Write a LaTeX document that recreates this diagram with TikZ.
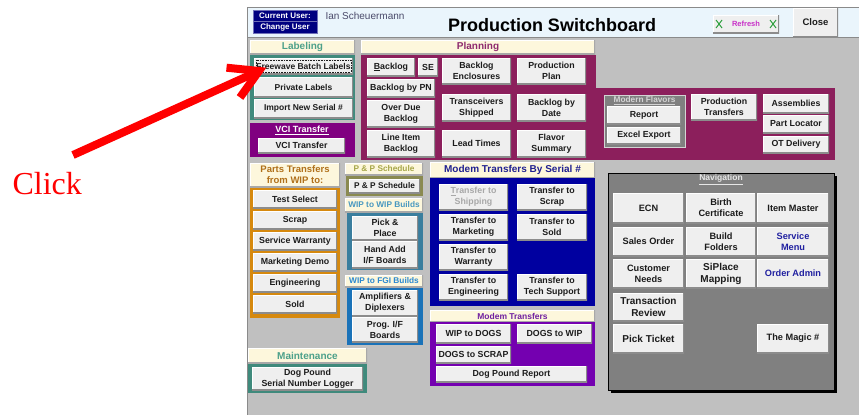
\documentclass[tikz,border=0pt]{standalone}
\usepackage{fontspec}
\setmainfont{Liberation Sans}
\newfontfamily\clickfont{Liberation Serif}
\usetikzlibrary{calc}

\definecolor{winGrey}{HTML}{C0C0C0}
\definecolor{winEdge}{HTML}{8A8A8A}
\definecolor{hdrBlue}{HTML}{EAF5FC}
\definecolor{userNavy}{HTML}{000080}
\definecolor{userEdge}{HTML}{7070B8}
\definecolor{userInk}{HTML}{4A4A6A}
\definecolor{btnFace}{HTML}{EFEFEF}
\definecolor{btnShade}{HTML}{8C8C8C}
\definecolor{btnInk}{HTML}{1C1C1C}
\definecolor{hdrCream}{HTML}{FDF7DC}
\definecolor{hdrShade}{HTML}{A8A8A8}
\definecolor{tealFrame}{HTML}{3F8A7C}
\definecolor{tealInk}{HTML}{4CA08A}
\definecolor{vciPurple}{HTML}{800080}
\definecolor{planMag}{HTML}{8C1F5C}
\definecolor{planInk}{HTML}{8E2A6E}
\definecolor{partsOrange}{HTML}{D6890E}
\definecolor{partsInk}{HTML}{B0701A}
\definecolor{oliveFrame}{HTML}{8A8A50}
\definecolor{oliveInk}{HTML}{A6A648}
\definecolor{wipFrame}{HTML}{3A7E9E}
\definecolor{wipInk}{HTML}{4898C0}
\definecolor{fgiFrame}{HTML}{1A72B8}
\definecolor{fgiInk}{HTML}{2A88D0}
\definecolor{serialNavy}{HTML}{0000A0}
\definecolor{serialInk}{HTML}{202090}
\definecolor{dogPurple}{HTML}{7400B0}
\definecolor{dogInk}{HTML}{7020A0}
\definecolor{navGrey}{HTML}{808080}
\definecolor{navTitle}{HTML}{E6E6E6}
\definecolor{flavGrey}{HTML}{808080}
\definecolor{flavEdge}{HTML}{D4D4D4}
\definecolor{linkNavy}{HTML}{2020A0}
\definecolor{disabledInk}{HTML}{A8A8A8}
\definecolor{refreshInk}{HTML}{C830C8}
\definecolor{iconGreen}{HTML}{30A040}
\definecolor{clickRed}{HTML}{FF0000}

\newcommand\fsz[2]{\fontsize{#1}{#2}\selectfont}
% rectangle node given by its corners: [style]{name}{x1}{y1}{x2}{y2}{text}
\newcommand\sbNode[7][]{\node[#1, minimum width={#5-#3}, minimum height={#6-#4}] (#2) at ({(#3+#5)/2},{(#4+#6)/2}) {#7};}

\begin{document}
\begin{tikzpicture}[x=1pt,y=-1pt,
  btn/.style={rectangle, fill=btnFace, inner sep=0pt, outer sep=0pt, align=center,
    text=btnInk, font=\fsz{8.8}{10.8}\bfseries,
    path picture={
      \draw[white, line width=2pt] (path picture bounding box.south west) |- (path picture bounding box.north east);
      \draw[btnShade, line width=2pt] (path picture bounding box.south west) -| (path picture bounding box.north east);
    }},
  navbtn/.style={btn, font=\fsz{9.2}{11}\bfseries},
  hdr/.style={rectangle, fill=hdrCream, inner sep=0pt, outer sep=0pt, align=center,
    font=\fsz{10}{11}\bfseries,
    path picture={
      \draw[white, line width=1.6pt] (path picture bounding box.south west) |- (path picture bounding box.north east);
      \draw[hdrShade, line width=1.6pt] (path picture bounding box.south west) -| (path picture bounding box.north east);
    }},
  smallhdr/.style={hdr, font=\fsz{8.3}{9}\bfseries},
  panel/.style={rectangle, inner sep=0pt, outer sep=0pt},
  userTag/.style={rectangle, fill=userNavy, draw=userEdge, line width=0.8pt, inner sep=0pt,
    text=white, font=\fsz{8}{9}\bfseries},
  clickArrow/.style={draw=clickRed, line width=8pt}
]
\useasboundingbox (0,0) rectangle (859,415);
\fill[white] (0,0) rectangle (859,415);

% ---- window body and title bar
\fill[winGrey] (247,7) rectangle (859,415);
\fill[hdrBlue] (248,8) rectangle (859,37);
\draw[winEdge] (247.5,7) -- (247.5,415);
\draw[winEdge] (247,7.5) -- (859,7.5);
\draw[winEdge] (248,37.5) -- (859,37.5);

\sbNode[userTag]{curUser}{253}{10}{317}{21}{Current User:}
\sbNode[userTag]{chgUser}{253}{21.5}{317}{33}{Change User}
\node[anchor=west, font=\fsz{10}{11}, text=userInk] (userName) at (322,16) {Ian Scheuermann};
\node[font=\fsz{18}{20}\bfseries] (title) at (552,25) {Production Switchboard};

\sbNode[btn, font=\fsz{7.5}{8}\bfseries, text=refreshInk]{refresh}{713}{15}{779}{33}{Refresh}
\foreach \ix in {719,773} {
  \draw[iconGreen, line width=1pt] (\ix-3,20) -- (\ix+3,28) (\ix+3,20) -- (\ix-3,28);
}
\sbNode[btn, font=\fsz{9.5}{11}\bfseries]{closeBtn}{793}{8}{838}{37}{Close}

% ---- Labeling
\sbNode[hdr, text=tealInk]{labHdr}{250}{40}{355}{54}{Labeling}
\sbNode[panel, fill=tealFrame]{labPanel}{250}{55}{355}{120}{}
\sbNode[btn, font=\fsz{8.5}{10}\bfseries]{fwb}{254}{58}{353}{74}{Freewave Batch Labels}
\draw[btnInk, densely dotted, line width=0.6pt]
  ([shift={(2,-2)}]fwb.south west) rectangle ([shift={(-2,2)}]fwb.north east);
\sbNode[btn, font=\fsz{8.5}{10}\bfseries]{privLab}{254}{77}{353}{97}{Private Labels}
\sbNode[btn, font=\fsz{8.5}{10}\bfseries]{impSer}{254}{99}{353}{118}{Import New Serial \#}

% ---- VCI Transfer
\sbNode[panel, fill=vciPurple]{vciPanel}{250}{123}{355}{157}{}
\node[text=white, font=\fsz{9}{10}\bfseries] (vciHdr) at (302,130) {\underline{VCI Transfer}};
\sbNode[btn]{vciBtn}{258}{138}{345}{153}{VCI Transfer}

% ---- Planning
\sbNode[hdr, text=planInk]{planHdr}{361}{40}{595}{54}{Planning}
\sbNode[panel, fill=planMag]{planL}{361}{55}{596}{159.5}{}
\sbNode[panel, fill=planMag]{planR}{595}{88}{835}{159.5}{}
\sbNode[btn]{backlog}{367}{58}{415}{76}{\underline{B}acklog}
\sbNode[btn]{seBtn}{418}{58}{438}{76}{SE}
\sbNode[btn]{blEncl}{442}{58}{511}{84}{Backlog\\Enclosures}
\sbNode[btn]{prodPlan}{517}{58}{586}{84}{Production\\Plan}
\sbNode[btn]{blPN}{367}{79}{435}{97}{Backlog by PN}
\sbNode[btn]{overDue}{367}{100}{435}{127}{Over Due\\Backlog}
\sbNode[btn]{trShip}{442}{94}{511}{121}{Transceivers\\Shipped}
\sbNode[btn]{blDate}{517}{94}{586}{121}{Backlog by\\Date}
\sbNode[btn]{lineItem}{367}{130}{435}{157}{Line Item\\Backlog}
\sbNode[btn]{leadTimes}{442}{130}{511}{157}{Lead Times}
\sbNode[btn]{flavSum}{517}{130}{586}{157}{Flavor\\Summary}

\sbNode[panel, fill=flavGrey, draw=flavEdge, line width=1pt]{flavFrame}{604}{95}{685}{147}{}
\node[text=flavEdge, font=\fsz{8.3}{9}\bfseries] (flavHdr) at (644.5,100.5) {\underline{Modern Flavors}};
\sbNode[btn]{flavRep}{607}{106}{681}{124}{Report}
\sbNode[btn]{flavXls}{607}{127}{681}{144}{Excel Export}
\sbNode[btn]{prodTr}{691}{94}{757}{120}{Production\\Transfers}
\sbNode[btn]{assy}{763}{94}{829}{113}{Assemblies}
\sbNode[btn]{partLoc}{763}{115}{829}{133}{Part Locator}
\sbNode[btn]{otDel}{763}{136}{829}{153}{OT Delivery}

% ---- Parts transfers from WIP
\sbNode[hdr, text=partsInk, font=\fsz{9.5}{11}\bfseries]{partsHdr}{250}{163}{340}{187}{Parts Transfers\\from WIP to:}
\sbNode[panel, fill=partsOrange]{partsPanel}{250}{188}{340}{318}{}
\sbNode[btn]{ptTest}{253}{190}{337}{208}{Test Select}
\sbNode[btn]{ptScrap}{253}{211}{337}{229}{Scrap}
\sbNode[btn]{ptWarr}{253}{232}{337}{250}{Service Warranty}
\sbNode[btn]{ptMkt}{253}{253}{337}{271}{Marketing Demo}
\sbNode[btn]{ptEng}{253}{274}{337}{292}{Engineering}
\sbNode[btn]{ptSold}{253}{295}{337}{313}{Sold}

% ---- P & P schedule, WIP builds
\sbNode[smallhdr, text=oliveInk]{ppHdr}{345}{163}{423}{175}{P \& P Schedule}
\sbNode[panel, fill=oliveFrame]{ppPanel}{346}{176}{423}{196}{}
\sbNode[btn, font=\fsz{8.3}{10}\bfseries]{ppBtn}{349}{179}{420}{193}{P \& P Schedule}

\sbNode[smallhdr, text=wipInk]{wipHdr}{345}{198}{423}{212}{WIP to WIP Builds}
\sbNode[panel, fill=wipFrame]{wipPanel}{347}{213}{423}{270}{}
\sbNode[btn]{pickPlace}{352}{216}{418}{240}{Pick \&\\Place}
\sbNode[btn]{handAdd}{352}{241}{418}{268}{Hand Add\\I/F Boards}

\sbNode[smallhdr, text=fgiInk]{fgiHdr}{345}{275}{423}{287}{WIP to FGI Builds}
\sbNode[panel, fill=fgiFrame]{fgiPanel}{347}{288}{423}{345}{}
\sbNode[btn]{ampDip}{352}{290}{418}{316}{Amplifiers \&\\Diplexers}
\sbNode[btn]{progIF}{352}{317}{418}{342}{Prog. I/F\\Boards}

% ---- Maintenance
\sbNode[hdr, text=tealInk]{mntHdr}{248}{348}{367}{363}{Maintenance}
\sbNode[panel, fill=tealFrame]{mntPanel}{248}{364}{367}{393}{}
\sbNode[btn]{dogLog}{252}{367}{363}{390}{Dog Pound\\Serial Number Logger}

% ---- Modem transfers by serial
\sbNode[hdr, text=serialInk]{serHdr}{430}{162}{595}{178}{Modem Transfers By Serial \#}
\sbNode[panel, fill=serialNavy]{serPanel}{430}{178}{595}{306}{}
\sbNode[btn, text=disabledInk]{toShip}{439}{184}{508}{210}{\underline{T}ransfer to\\Shipping}
\sbNode[btn]{toScrap}{517}{184}{587}{210}{Transfer to\\Scrap}
\sbNode[btn]{toMkt}{439}{214}{508}{240}{Transfer to\\Marketing}
\sbNode[btn]{toSold}{517}{214}{587}{240}{Transfer to\\Sold}
\sbNode[btn]{toWarr}{439}{244}{508}{270}{Transfer to\\Warranty}
\sbNode[btn]{toEng}{439}{274}{508}{300}{Transfer to\\Engineering}
\sbNode[btn]{toTech}{517}{274}{587}{300}{Transfer to\\Tech Support}

% ---- Modem transfers (dog pound)
\sbNode[hdr, text=dogInk, font=\fsz{8.5}{9}\bfseries]{dogHdr}{430}{310}{595}{322}{Modem Transfers}
\sbNode[panel, fill=dogPurple]{dogPanel}{430}{322}{595}{386}{}
\sbNode[btn]{wipDogs}{436}{324}{511}{343}{WIP to DOGS}
\sbNode[btn]{dogsWip}{517}{324}{592}{343}{DOGS to WIP}
\sbNode[btn]{dogsScrap}{436}{346}{511}{363}{DOGS to SCRAP}
\sbNode[btn]{dogRep}{436}{366}{587}{382}{Dog Pound Report}

% ---- Navigation
\fill[black] (611,176) rectangle (837,393);
\sbNode[panel, fill=navGrey, draw=black, line width=1pt]{navPanel}{608}{173}{834}{390}{}
\node[text=navTitle, font=\fsz{8.5}{9}\bfseries] (navHdr) at (721,179.5) {\underline{Navigation}};
\sbNode[navbtn]{ecn}{613}{193}{684}{223}{ECN}
\sbNode[navbtn]{birth}{686}{193}{756}{223}{Birth\\Certificate}
\sbNode[navbtn]{itemMaster}{757}{193}{829}{223}{Item Master}
\sbNode[navbtn]{salesOrder}{613}{227}{684}{256}{Sales Order}
\sbNode[navbtn]{buildFold}{686}{227}{756}{256}{Build\\Folders}
\sbNode[navbtn, text=linkNavy]{servMenu}{757}{227}{829}{256}{Service\\Menu}
\sbNode[navbtn]{custNeeds}{613}{259}{684}{288}{Customer\\Needs}
\sbNode[navbtn, font=\fsz{10}{12}\bfseries]{siplace}{686}{259}{756}{288}{SiPlace\\Mapping}
\sbNode[navbtn, text=linkNavy]{orderAdmin}{757}{259}{829}{288}{Order Admin}
\sbNode[navbtn, font=\fsz{10}{12}\bfseries]{transRev}{613}{293}{684}{321}{Transaction\\Review}
\sbNode[navbtn, font=\fsz{10}{12}\bfseries]{pickTicket}{613}{324}{684}{353}{Pick Ticket}
\sbNode[navbtn]{magic}{757}{324}{829}{353}{The Magic \#}

% ---- call-out
\node[anchor=base west, text=clickRed, font=\clickfont\fsz{32}{36}] (clickLbl) at (9,194) {Click};
\coordinate (clickTail) at (73,155);
\coordinate (clickTip) at (259,71);
\draw[clickArrow, line cap=butt] (clickTail) -- ($(clickTip)!3pt!(clickTail)$);
\draw[clickArrow, line join=miter, line cap=butt]
  ($(clickTip)+(-32.5,-3.3)$) -- (clickTip) -- ($(clickTip)+(-19,26.5)$);
\end{tikzpicture}
\end{document}
